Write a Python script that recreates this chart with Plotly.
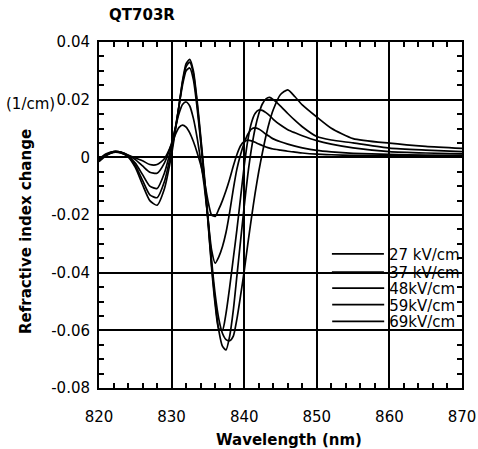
import plotly.graph_objects as go

# ---- data ----
wavelength = [820, 821, 822, 823, 824, 825, 826, 827, 828, 829, 830,
              830.5, 831, 831.5, 832, 832.5, 833, 833.5, 834, 834.5, 835,
              835.5, 836, 836.5, 837, 837.5, 838, 838.5, 839, 839.5, 840,
              840.5, 841, 841.5, 842, 842.5, 843, 843.5, 844, 845, 846,
              847, 848, 850, 852, 855, 860, 865, 870]

dn_27 = [-0.0005, 0.0012, 0.0020, 0.0018, 0.0008, -0.0002, -0.0012, -0.0025, -0.0025, -0.0005, 0.0045,
         0.0078, 0.0103, 0.0112, 0.0105, 0.0085, 0.0055, 0.0018, -0.0025, -0.0080, -0.0150,
         -0.0200, -0.0205, -0.0180, -0.0150, -0.0115, -0.0075, -0.0030, 0.0010, 0.0040, 0.0055,
         0.0060, 0.0057, 0.0052, 0.0046, 0.0041, 0.0036, 0.0032, 0.0029, 0.0025, 0.0021,
         0.0018, 0.0015, 0.0011, 0.0009, 0.0007, 0.0006, 0.0005, 0.0005]

dn_37 = [-0.0008, 0.0010, 0.0020, 0.0018, 0.0007, -0.0008, -0.0030, -0.0052, -0.0055, -0.0020, 0.0050,
         0.0100, 0.0150, 0.0183, 0.0192, 0.0178, 0.0135, 0.0070, -0.0010, -0.0100, -0.0210,
         -0.0320, -0.0367, -0.0345, -0.0310, -0.0260, -0.0190, -0.0110, -0.0040, 0.0010, 0.0050,
         0.0080, 0.0098, 0.0102, 0.0098, 0.0090, 0.0080, 0.0072, 0.0064, 0.0054, 0.0046,
         0.0039, 0.0033, 0.0024, 0.0019, 0.0014, 0.0010, 0.0008, 0.0007]

dn_48 = [-0.0010, 0.0009, 0.0019, 0.0017, 0.0005, -0.0020, -0.0060, -0.0100, -0.0108, -0.0055, 0.0040,
         0.0100, 0.0175, 0.0250, 0.0300, 0.0310, 0.0270, 0.0175, 0.0055, -0.0075, -0.0220,
         -0.0380, -0.0510, -0.0595, -0.0600, -0.0540, -0.0450, -0.0350, -0.0250, -0.0140, -0.0030,
         0.0060, 0.0120, 0.0152, 0.0164, 0.0163, 0.0155, 0.0145, 0.0132, 0.0112, 0.0096,
         0.0085, 0.0075, 0.0058, 0.0046, 0.0033, 0.0020, 0.0015, 0.0012]

dn_59 = [-0.0012, 0.0008, 0.0018, 0.0016, 0.0003, -0.0028, -0.0080, -0.0130, -0.0140, -0.0085, 0.0025,
         0.0095, 0.0175, 0.0260, 0.0315, 0.0330, 0.0290, 0.0190, 0.0065, -0.0070, -0.0215,
         -0.0370, -0.0500, -0.0600, -0.0655, -0.0668, -0.0620, -0.0530, -0.0410, -0.0290, -0.0170,
         -0.0060, 0.0030, 0.0100, 0.0150, 0.0185, 0.0203, 0.0208, 0.0200, 0.0178, 0.0152,
         0.0128, 0.0106, 0.0072, 0.0060, 0.0050, 0.0032, 0.0025, 0.0020]

dn_69 = [-0.0015, 0.0006, 0.0017, 0.0015, 0.0002, -0.0035, -0.0095, -0.0150, -0.0166, -0.0110, 0.0010,
         0.0090, 0.0175, 0.0265, 0.0325, 0.0340, 0.0300, 0.0200, 0.0075, -0.0060, -0.0205,
         -0.0355, -0.0475, -0.0560, -0.0610, -0.0632, -0.0636, -0.0620, -0.0560, -0.0480, -0.0395,
         -0.0300, -0.0210, -0.0125, -0.0050, 0.0015, 0.0075, 0.0125, 0.0165, 0.0218, 0.0234,
         0.0210, 0.0182, 0.0140, 0.0101, 0.0065, 0.0049, 0.0038, 0.0031]

series_names = ["27 kV/cm", "37 kV/cm", "48kV/cm", "59kV/cm", "69kV/cm"]
series_values = [dn_27, dn_37, dn_48, dn_59, dn_69]

x_ticks = [820, 830, 840, 850, 860, 870]
x_ticktext = ["820", "830", "840", "850", "860", "870"]
y_ticks = [0.04, 0.02, 0, -0.02, -0.04, -0.06, -0.08]
y_ticktext = ["0.04", "0.02", "0", "-0.02", "-0.04", "-0.06", "-0.08"]

FONT = "DejaVu Sans"

# ---- figure ----
fig = go.Figure()
legend_ids = ["legend", "legend2", "legend3", "legend4", "legend5"]
for name, vals, lid in zip(series_names, series_values, legend_ids):
    fig.add_trace(go.Scatter(
        x=wavelength, y=vals, mode="lines", name=name, legend=lid,
        line=dict(color="black", width=1.7, shape="spline", smoothing=0.6),
        hoverinfo="skip",
    ))

# legend rows (one legend per row so the rows can sit close together);
# right-anchored inside the plot so they do not push the margins
row_y = [0.387, 0.334, 0.288, 0.240, 0.192]
row_x = [1.008, 1.008, 0.995, 0.995, 0.995]
legend_layout = {}
for lid, xx, yy in zip(legend_ids, row_x, row_y):
    legend_layout[lid] = dict(
        x=xx, y=yy, xanchor="right", yanchor="middle",
        bgcolor="rgba(0,0,0,0)", borderwidth=0, itemwidth=52,
        font=dict(family=FONT, size=15, color="black"),
        itemclick=False, itemdoubleclick=False,
    )

fig.update_layout(
    width=478, height=449,
    margin=dict(l=99, r=16, t=42, b=61, autoexpand=False),
    paper_bgcolor="white", plot_bgcolor="white",
    font=dict(family=FONT, size=15, color="black"),
    title=dict(text="<b>QT703R</b>", x=142 / 478, xref="container",
               xanchor="center", y=1 - 15 / 449, yanchor="middle",
               font=dict(family=FONT, size=15, color="black")),
    showlegend=True,
    **legend_layout,
)

fig.update_xaxes(
    range=[820, 870], tickvals=x_ticks, ticktext=x_ticktext,
    showgrid=True, gridcolor="black", gridwidth=1.5,
    zeroline=False,
    showline=True, linecolor="black", linewidth=2, mirror="allticks",
    ticks="inside", ticklen=7, tickwidth=1.5, tickcolor="black",
    ticklabelstandoff=14,
    minor=dict(dtick=2, tick0=820, ticks="inside", ticklen=5, tickwidth=1.5,
               tickcolor="black", showgrid=False),
    tickfont=dict(family=FONT, size=15, color="black"),
)
fig.update_yaxes(
    range=[-0.08, 0.04], tickvals=y_ticks, ticktext=y_ticktext,
    showgrid=True, gridcolor="black", gridwidth=2,
    zeroline=True, zerolinecolor="black", zerolinewidth=2,
    showline=True, linecolor="black", linewidth=2, mirror="allticks",
    ticks="inside", ticklen=7, tickwidth=1.5, tickcolor="black",
    ticklabelstandoff=4,
    minor=dict(dtick=0.005, tick0=0, ticks="inside", ticklen=5, tickwidth=1.5,
               tickcolor="black", showgrid=False),
    tickfont=dict(family=FONT, size=15, color="black"),
)

# white backing behind the legend rows (covers grid lines like the original)
fig.add_shape(type="rect", xref="paper", yref="paper",
              x0=0.609, x1=0.989, y0=0.139, y1=0.436,
              fillcolor="white", line=dict(width=0), layer="between")

# axis titles and unit label
fig.add_annotation(text="<b>Refractive index change</b>", xref="paper", yref="paper",
                   x=-0.201, y=0.451, textangle=-90, showarrow=False,
                   xanchor="center", yanchor="middle",
                   font=dict(family=FONT, size=15, color="black"))
fig.add_annotation(text="(1/cm)", xref="paper", yref="paper",
                   x=(30 - 99) / 363, y=(388 - 104) / 346, showarrow=False,
                   xanchor="center", yanchor="middle",
                   font=dict(family=FONT, size=15, color="black"))
fig.add_annotation(text="<b>Wavelength (nm)</b>", xref="paper", yref="paper",
                   x=(289 - 99) / 363, y=(388 - 440) / 346, showarrow=False,
                   xanchor="center", yanchor="middle",
                   font=dict(family=FONT, size=15, color="black"))

fig.write_html("out.html", config={"displayModeBar": False},
               post_script="document.body.style.margin='0';")
